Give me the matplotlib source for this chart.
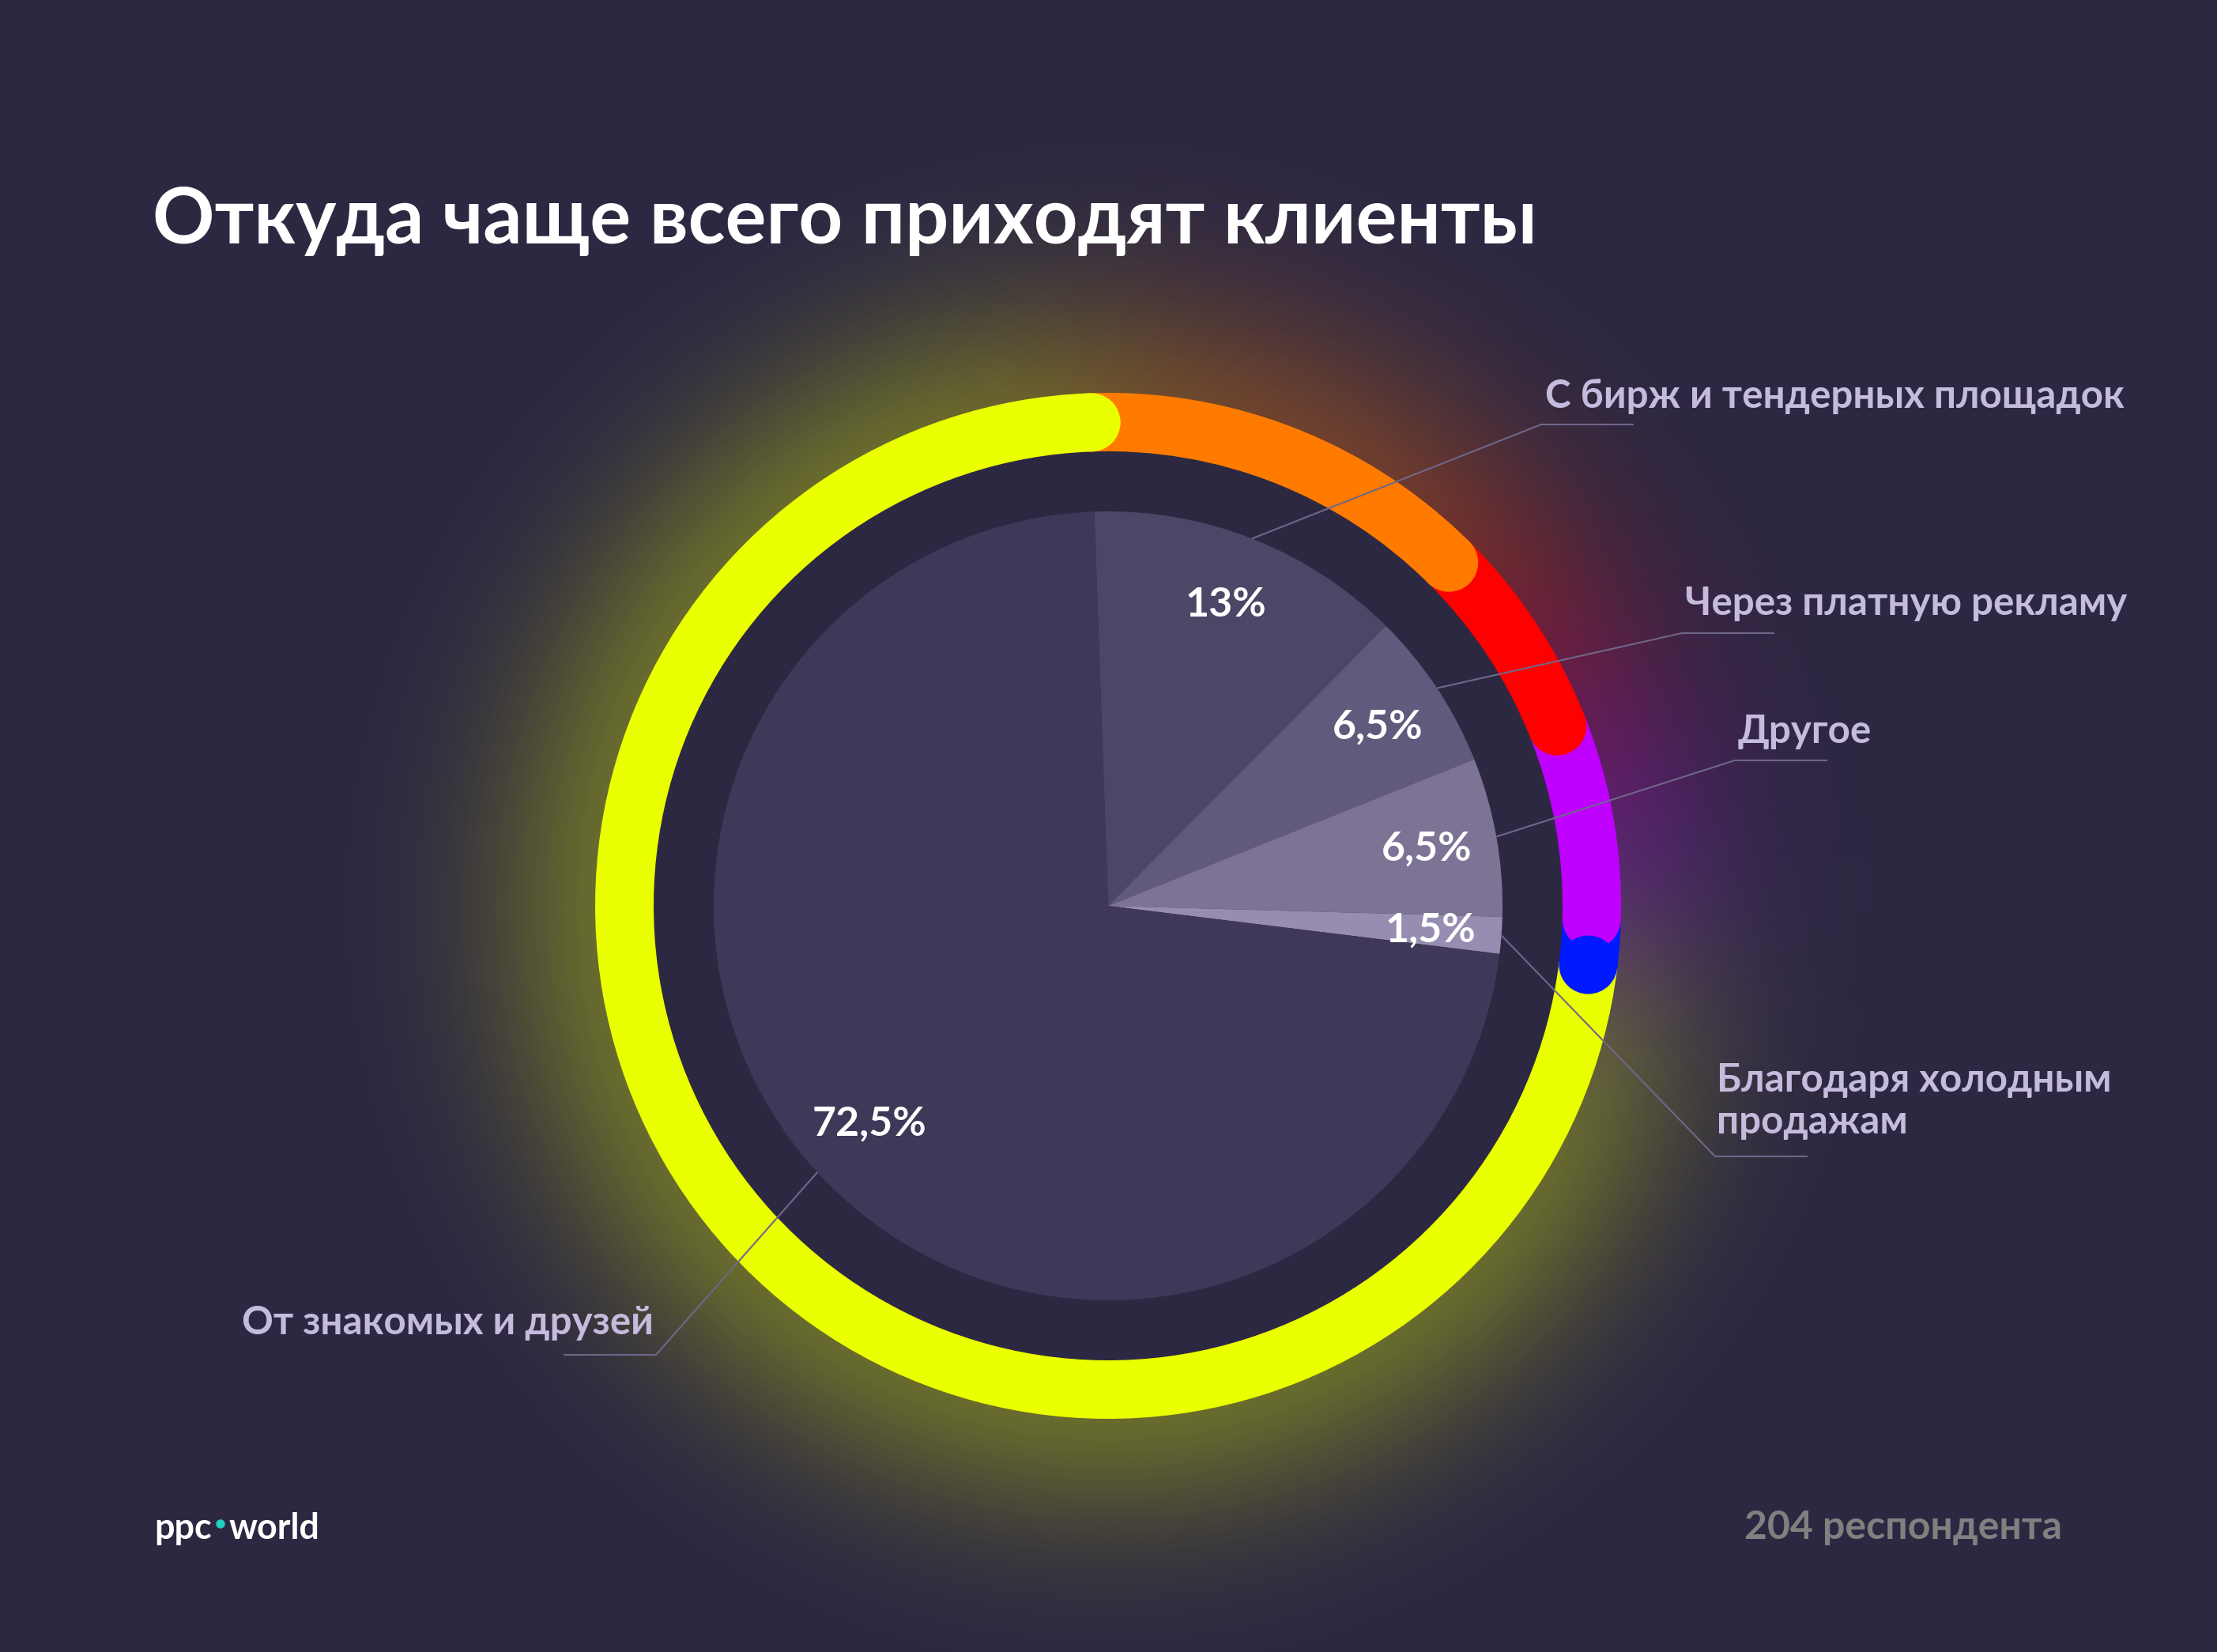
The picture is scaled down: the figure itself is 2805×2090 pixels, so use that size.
import matplotlib
matplotlib.use("Agg")
import matplotlib.pyplot as plt
import matplotlib.patches as patches
import numpy as np

# --- data ---
categories = ["С бирж и тендерных площадок", "Через платную рекламу", "Другое",
              "Благодаря холодным\nпродажам", "От знакомых и друзей"]
shares = [13, 6.5, 6.5, 1.5, 72.5]
ring_colors = ["#ff7b00", "#ff0000", "#bf00ff", "#0019ff", "#eaff00"]
pie_colors = ["#4e4666", "#625a7c", "#7c7395", "#968db0", "#403858"]
title = "Откуда чаще всего приходят клиенты"
footer = "204 респондента"

# --- layout (pixels, image coords y down) ---
W, H = 2805, 2090
BG = "#2d2842"
cx, cy = 1402, H - 1146
r_out, r_in, r_pie = 649, 575, 499
start = 92
label_pos = [(1955, 501), (2132, 764), (2199, 925), (2172, 1393), (827, 1673)]
elbows = [(1950, 537), (2128, 801), (2195, 962), (2170, 1463), (830, 1714)]
seg_len = 117

fig = plt.figure(figsize=(W / 100, H / 100), dpi=100, facecolor=BG)
ax = fig.add_axes([0, 0, 1, 1])
ax.set_facecolor(BG)

# --- glow: blurred copy of the ring ---
s = 5
gx = np.arange(0, W, s) + s / 2
gy = np.arange(0, H, s) + s / 2
X, Y = np.meshgrid(gx, gy)
dx, dy = X - cx, Y - cy
rr = np.hypot(dx, dy)
phi = (start - np.degrees(np.arctan2(dy, dx))) % 360
bounds = np.cumsum(shares) / np.sum(shares) * 360
idx = np.clip(np.searchsorted(bounds, phi, side="right"), 0, len(shares) - 1)
rgb = np.array([matplotlib.colors.to_rgb(c) for c in ring_colors])
mask = ((rr >= r_in) & (rr <= r_out)).astype(float)
layers = np.dstack([mask[..., None] * rgb[idx], mask])

sig = 130 / s
kx = np.arange(-int(3 * sig), int(3 * sig) + 1)
k = np.exp(-0.5 * (kx / sig) ** 2)
k /= k.sum()
for ch in range(4):
    a = layers[..., ch]
    a = np.apply_along_axis(lambda m: np.convolve(m, k, mode="same"), 1, a)
    a = np.apply_along_axis(lambda m: np.convolve(m, k, mode="same"), 0, a)
    layers[..., ch] = a
A = layers[..., 3]
glow = np.zeros_like(layers)
glow[..., :3] = layers[..., :3] / np.maximum(A, 1e-6)[..., None]
glow[..., 3] = np.clip(A * 1.5, 0, 0.45)
ax.imshow(glow, extent=(0, W, 0, H), origin="lower", zorder=1, interpolation="bilinear")
ax.add_patch(patches.Circle((cx, cy), r_in, color=BG, zorder=2))

# --- ring ---
ring, _ = ax.pie(shares, colors=ring_colors, startangle=start, counterclock=False,
                 center=(cx, cy), radius=r_out,
                 wedgeprops=dict(width=r_out - r_in, linewidth=0, zorder=3))
rm = (r_out + r_in) / 2
for w, c in zip(ring, ring_colors):
    a = np.radians(w.theta1)
    ax.add_patch(patches.Circle((cx + rm * np.cos(a), cy + rm * np.sin(a)),
                                (r_out - r_in) / 2, color=c, lw=0, zorder=4))

# --- inner pie ---
def pct_fmt(p):
    return f"{p:.1f}".rstrip("0").rstrip(".").replace(".", ",") + "%"

wedges, _, pcts = ax.pie(shares, colors=pie_colors, startangle=start, counterclock=False,
                         center=(cx, cy), radius=r_pie, autopct=pct_fmt, pctdistance=0.82,
                         wedgeprops=dict(linewidth=0, zorder=5),
                         textprops=dict(color="white", fontweight="bold",
                                        family=["Lato", "DejaVu Sans"], fontsize=34, zorder=6))

ax.set_xlim(0, W)
ax.set_ylim(0, H)
ax.set_aspect("auto")
ax.axis("off")

renderer = fig.canvas.get_renderer()


def fit(txt, width):
    bb = txt.get_window_extent(renderer=renderer)
    txt.set_fontsize(txt.get_fontsize() * width / bb.width)
    return txt.get_fontsize()


# percent labels sized from "6,5%"
fs = fit(pcts[1], 115)
for t in pcts:
    t.set_fontsize(fs)

# --- leader lines and category labels ---
line_col = "#6f6789"
lab_texts = []
for w, name, (tx, ty), (ex, ey) in zip(wedges, categories, label_pos, elbows):
    a = np.radians((w.theta1 + w.theta2) / 2)
    px, py = cx + r_pie * np.cos(a), cy + r_pie * np.sin(a)
    sign = 1 if ex > cx else -1
    ax.plot([px, ex, ex + sign * seg_len], [py, H - ey, H - ey], color=line_col,
            lw=1.5, zorder=7, solid_capstyle="butt")
    t = ax.text(tx, H - ty, name, ha="left" if sign > 0 else "right", va="center",
                color="#c4bbdd", fontweight="bold", family=["Lato", "DejaVu Sans"],
                fontsize=30, linespacing=1.2, zorder=8)
    lab_texts.append(t)
fs = fit(lab_texts[1], 558)
for t in lab_texts:
    t.set_fontsize(fs)

# --- title and footer ---
tt = ax.text(193, H - 308, title, ha="left", va="baseline", color="white",
             fontweight="bold", family=["Lato", "DejaVu Sans"], fontsize=70, zorder=8)
fit(tt, 1752)

ft = ax.text(2207, H - 1947, footer, ha="left", va="baseline", color="#808080",
             fontweight="bold", family=["Lato", "DejaVu Sans"], fontsize=30, zorder=8)
fit(ft, 401)

p1 = ax.text(195, H - 1947, "ppc", ha="left", va="baseline", color="white",
             fontweight="bold", family=["Lato", "DejaVu Sans"], fontsize=30, zorder=8)
p2 = ax.text(290, H - 1947, "world", ha="left", va="baseline", color="white",
             fontweight="bold", family=["Lato", "DejaVu Sans"], fontsize=30, zorder=8)
fs = fit(p2, 115)
p1.set_fontsize(fs)
ax.add_patch(patches.Circle((279, H - 1928), 5, color="#1fd1c1", zorder=8))

fig.savefig("out.png", dpi=100, facecolor=BG)
